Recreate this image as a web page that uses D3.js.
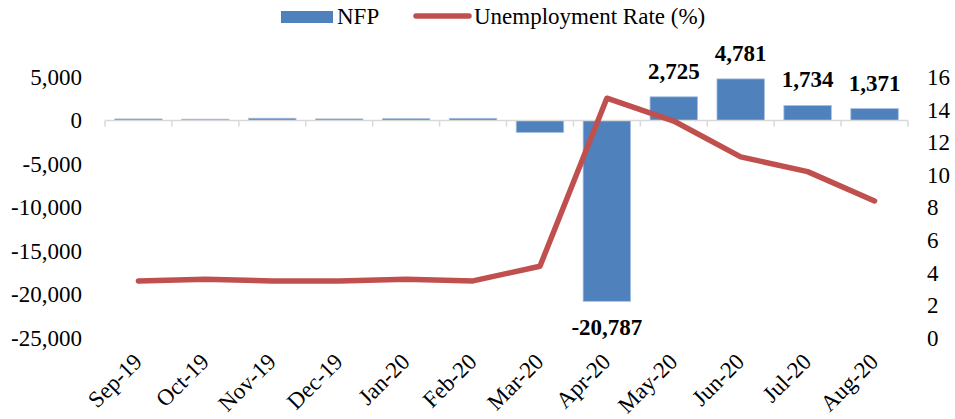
<!DOCTYPE html>
<html>
<head>
<meta charset="utf-8">
<script src="https://cdn.jsdelivr.net/npm/d3@7"></script>
<style>
  body { margin: 0; background: #fff; }
  text { font-family: "Liberation Serif", "Times New Roman", serif; }
</style>
</head>
<body>
<div class="canvas"></div>
<script>
// data
const months = ['Sep-19', 'Oct-19', 'Nov-19', 'Dec-19', 'Jan-20', 'Feb-20',
  'Mar-20', 'Apr-20', 'May-20', 'Jun-20', 'Jul-20', 'Aug-20'];
const nfp = [180, 152, 261, 184, 214, 251, -1373, -20787, 2725, 4781, 1734, 1371];
const unemployment = [3.5, 3.6, 3.5, 3.5, 3.6, 3.5, 4.4, 14.7, 13.3, 11.1, 10.2, 8.4];
const labelled = ['Apr-20', 'May-20', 'Jun-20', 'Jul-20', 'Aug-20'];
const leftTicks = [5000, 0, -5000, -10000, -15000, -20000, -25000];
const rightTicks = [0, 2, 4, 6, 8, 10, 12, 14, 16];

const width = 955;
const height = 419;
const plot = { left: 105, right: 908, top: 77, bottom: 338 };

const svg = d3
  .select('.canvas')
  .append('svg')
  .attr('width', width)
  .attr('height', height);

const x = d3.scaleBand().domain(months).range([plot.left, plot.right]).paddingInner(0.29).paddingOuter(0.145);
const y = d3.scaleLinear().domain([-25000, 5000]).range([plot.bottom, plot.top]);
const y2 = d3.scaleLinear().domain([0, 16]).range([plot.bottom, plot.top]);

// plain hyphen for negatives, like the original
const fmt = d => d3.format(',')(d).replace('\u2212', '-');

// left axis
const leftAxis = svg.append('g')
  .attr('transform', `translate(${plot.left}, 0)`)
  .call(d3.axisLeft(y).tickValues(leftTicks).tickSize(0).tickPadding(23).tickFormat(fmt));
leftAxis.select('.domain').remove();
leftAxis.selectAll('text').attr('font-size', 23).attr('font-family', 'Liberation Serif').attr('fill', '#000');

// right axis
const rightAxis = svg.append('g')
  .attr('transform', `translate(${plot.right}, 0)`)
  .call(d3.axisRight(y2).tickValues(rightTicks).tickSize(0).tickPadding(19));
rightAxis.select('.domain').remove();
rightAxis.selectAll('text').attr('font-size', 23).attr('font-family', 'Liberation Serif').attr('fill', '#000');

// bars
svg.selectAll('rect.bar')
  .data(months)
  .enter()
  .append('rect')
  .attr('class', 'bar')
  .attr('x', d => x(d))
  .attr('width', x.bandwidth())
  .attr('y', (d, i) => y(Math.max(0, nfp[i])))
  .attr('height', (d, i) => Math.abs(y(nfp[i]) - y(0)))
  .attr('fill', '#4f81bd')
  .attr('stroke', '#a9c1e2')
  .attr('stroke-width', 0.8);

// category axis line with boundary ticks
const zero = y(0);
svg.append('line')
  .attr('x1', plot.left).attr('x2', plot.right)
  .attr('y1', zero).attr('y2', zero)
  .attr('stroke', '#d9d9d9').attr('stroke-width', 1.5);
const bounds = months.map(d => x(d) - x.step() * x.paddingInner() / 2).concat([plot.right]);
svg.selectAll('line.bound')
  .data(bounds)
  .enter()
  .append('line')
  .attr('x1', d => d).attr('x2', d => d)
  .attr('y1', zero).attr('y2', zero + 6)
  .attr('stroke', '#d9d9d9').attr('stroke-width', 1.5);

// category labels
svg.selectAll('text.cat')
  .data(months)
  .enter()
  .append('text')
  .attr('class', 'cat')
  .attr('transform', d => `translate(${x(d) + x.bandwidth() / 2 + 5}, 363) rotate(-45)`)
  .attr('text-anchor', 'end')
  .attr('font-size', 23)
  .text(d => d);

// unemployment line
const line = d3.line()
  .x((d, i) => x(months[i]) + x.bandwidth() / 2)
  .y(d => y2(d));

svg.append('path')
  .datum(unemployment)
  .attr('fill', 'none')
  .attr('stroke', '#c0504d')
  .attr('stroke-width', 5.5)
  .attr('stroke-linejoin', 'round')
  .attr('stroke-linecap', 'round')
  .attr('d', line);

// data labels
svg.selectAll('text.val')
  .data(months.filter(d => labelled.includes(d)))
  .enter()
  .append('text')
  .attr('class', 'val')
  .attr('x', d => x(d) + x.bandwidth() / 2)
  .attr('y', d => {
    const v = nfp[months.indexOf(d)];
    return v < 0 ? y(v) + 34 : y(v) - 18;
  })
  .attr('text-anchor', 'middle')
  .attr('font-size', 23)
  .attr('font-weight', 'bold')
  .text(d => fmt(nfp[months.indexOf(d)]));

// legend
const legend = svg.append('g');
legend.append('rect')
  .attr('x', 281).attr('y', 11).attr('width', 52).attr('height', 12)
  .attr('fill', '#4f81bd');
legend.append('text')
  .attr('x', 337).attr('y', 24)
  .attr('font-size', 23)
  .text('NFP');
legend.append('line')
  .attr('x1', 416).attr('x2', 469).attr('y1', 16).attr('y2', 16)
  .attr('stroke', '#c0504d').attr('stroke-width', 5.5).attr('stroke-linecap', 'round');
legend.append('text')
  .attr('x', 474).attr('y', 24)
  .attr('font-size', 23)
  .text('Unemployment Rate (%)');
</script>
</body>
</html>
